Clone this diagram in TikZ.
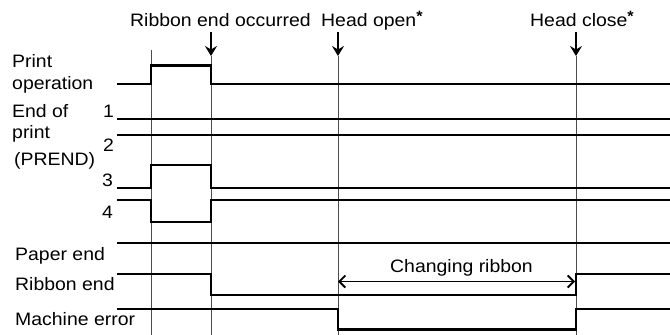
\documentclass[tikz,border=0pt]{standalone}
\usepackage{fontspec}
\setmainfont{Liberation Sans}[FakeStretch=1.08]
\usetikzlibrary{arrows.meta}
\newcommand{\astmark}{\raisebox{5pt}{\fontsize{15}{15}\selectfont\bfseries *}}
\begin{document}
\begin{tikzpicture}[x=1pt,y=-1pt,
  sig/.style={line width=2.8pt,line join=miter},
  guide/.style={line width=0.9pt,draw=black!70},
  evarrow/.style={line width=2pt,-{Stealth[length=10pt,width=12pt,inset=3.5pt]}},
  span/.style={line width=1.5pt,{Straight Barb[length=6pt,width=12pt,line width=1.8pt]}-{Straight Barb[length=6pt,width=12pt,line width=1.8pt]}},
  lbl/.style={anchor=base west,inner sep=0pt,font=\fontsize{18}{20}\selectfont},
  num/.style={anchor=base west,inner sep=0pt,font=\fontsize{18}{20}\selectfont}]
\useasboundingbox (0,0) rectangle (670,335);
% event coordinates
\coordinate (t1) at (151,50);
\coordinate (t2top) at (211,32);
\coordinate (t3top) at (338,32);
\coordinate (t4top) at (576,32);
\coordinate (t2) at (211,56);
\coordinate (t3) at (338,56);
\coordinate (t4) at (576,56);
\coordinate (t1b) at (151,335);
\coordinate (t2b) at (211,335);
\coordinate (t3b) at (338,335);
\coordinate (t4b) at (576,335);
% guides
\draw[guide] (t1) -- (t1b);
\draw[guide] (t2) -- (t2b);
\draw[guide] (t3) -- (t3b);
\draw[guide] (t4) -- (t4b);
\draw[evarrow] (t2top) -- (t2);
\draw[evarrow] (t3top) -- (t3);
\draw[evarrow] (t4top) -- (t4);
% top labels
\node[lbl] (ev1) at (130,26) {Ribbon end occurred};
\node[lbl] (ev2) at (321,26) {Head open\astmark};
\node[lbl] (ev3) at (530,26) {Head close\astmark};
% left labels
\node[lbl] (l1) at (12,67) {Print};
\node[lbl] (l2) at (12,89) {operation};
\node[lbl] (l3) at (12,117) {End of};
\node[lbl] (l4) at (12,138) {print};
\node[lbl] (l5) at (14,165) {(PREND)};
\node[num] (n1) at (103,117) {1};
\node[num] (n2) at (103,151) {2};
\node[num] (n3) at (102,186) {3};
\node[num] (n4) at (102,218) {4};
\node[lbl] (l6) at (15,260) {Paper end};
\node[lbl] (l7) at (15,290) {Ribbon end};
\node[lbl] (l8) at (15,325) {Machine error};
% signals
\draw[sig] (117,84) -- (151,84) -- (151,65.7) -- (211,65.7) -- (211,84) -- (670,84);
\draw[sig] (117,119) -- (670,119);
\draw[sig] (117,135) -- (670,135);
\draw[sig] (117,188) -- (151,188) -- (151,165) -- (211,165) -- (211,188) -- (670,188);
\draw[sig] (117,200) -- (151,200) -- (151,222) -- (211,222) -- (211,200) -- (670,200);
\draw[sig] (117,243) -- (670,243);
\draw[sig] (117,274) -- (211,274) -- (211,295) -- (576,295) -- (576,274) -- (670,274);
\draw[sig] (117,309) -- (338,309) -- (338,329.5) -- (576,329.5) -- (576,309) -- (670,309);
% span
\coordinate (s1) at (338,281.5);
\coordinate (s2) at (575,281.5);
\draw[span] (s1) -- (s2);
\node[anchor=base,inner sep=0pt,font=\fontsize{18}{20}\selectfont] (cr) at (461.5,272.3) {Changing ribbon};
\end{tikzpicture}
\end{document}
